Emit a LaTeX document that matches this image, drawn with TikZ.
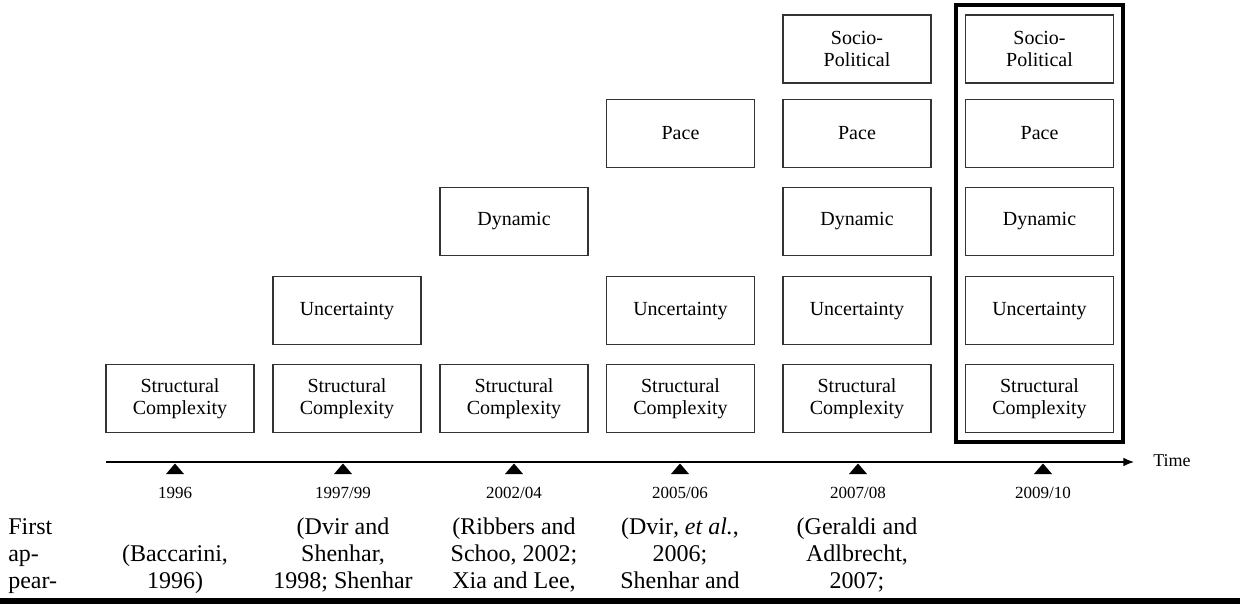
\documentclass[tikz,border=0pt]{standalone}
\usepackage{fontspec}
\setmainfont{Liberation Serif}
\usetikzlibrary{arrows.meta,fit}
\begin{document}
\begin{tikzpicture}[x=0.75pt,y=-0.75pt,
  dimbox/.style={draw=black!80, line width=0.9pt, minimum width=111pt, minimum height=51pt,
    inner sep=0pt, align=center, font=\fontsize{15}{16.5}\selectfont},
  yearlbl/.style={font=\fontsize{12.75}{14}\selectfont, inner sep=0pt},
  cite/.style={anchor=base, font=\fontsize{18}{20}\selectfont, inner sep=0pt},
  frame/.style={draw=black, line width=3pt, inner sep=6.75pt},
  axis/.style={line width=0.9pt, -{Latex[length=8pt,width=6.5pt]}},
  marker/.style={fill=black}]
\useasboundingbox (0,0) rectangle (1240,604);

% boxes
\foreach \c/\x in {1/180,2/347,3/514,4/680.5,5/857,6/1039.5}
  \node[dimbox] (sc\c) at (\x,398.5) {Structural\\Complexity};
\foreach \c/\x in {2/347,4/680.5,5/857,6/1039.5}
  \node[dimbox] (un\c) at (\x,310.8) {Uncertainty};
\foreach \c/\x in {3/514,5/857,6/1039.5}
  \node[dimbox] (dy\c) at (\x,221.5) {Dynamic};
\foreach \c/\x in {4/680.5,5/857,6/1039.5}
  \node[dimbox] (pa\c) at (\x,133.5) {Pace};
\foreach \c/\x in {5/857,6/1039.5}
  \node[dimbox] (sp\c) at (\x,49) {Socio-\\Political};

% highlight frame
\node[frame, fit=(sc6)(sp6)] (hl) {};

% time axis
\coordinate (axs) at (106,462);
\coordinate (axe) at (1134,462);
\draw[axis] (axs) -- (axe);
\node[yearlbl, font=\fontsize{13.5}{15}\selectfont] (time) at (1172,461) {Time};

% markers and years
\foreach \c/\x/\y in {1/175/1996,2/343/1997\slash 99,3/514/2002\slash 04,4/680/2005\slash 06,5/858/2007\slash 08,6/1043/2009\slash 10}{
  \fill[marker] (\x-9,474) -- (\x,463.5) -- (\x+9,474) -- cycle;
  \node[yearlbl] (yr\c) at (\x,493) {\y};
}

% citation row
\node[cite, anchor=base west] (fa) at (8,534) {First};
\node[cite, anchor=base west] (fb) at (8,561) {ap-};
\node[cite, anchor=base west] (fc) at (8,588) {pear-};

\node[cite] (c1b) at (175,561) {(Baccarini,};
\node[cite] (c1c) at (175,588) {1996)};

\node[cite] (c2a) at (343,534) {(Dvir and};
\node[cite] (c2b) at (343,561) {Shenhar,};
\node[cite] (c2c) at (343,588) {1998; Shenhar};

\node[cite] (c3a) at (514,534) {(Ribbers and};
\node[cite] (c3b) at (514,561) {Schoo, 2002;};
\node[cite] (c3c) at (514,588) {Xia and Lee,};

\node[cite] (c4a) at (680,534) {(Dvir\textit{, et al.},};
\node[cite] (c4b) at (680,561) {2006;};
\node[cite] (c4c) at (680,588) {Shenhar and};

\node[cite] (c5a) at (857,534) {(Geraldi and};
\node[cite] (c5b) at (857,561) {Adlbrecht,};
\node[cite] (c5c) at (857,588) {2007;};

% bottom rule
\fill[black] (0,597.5) rectangle (1240,604);
\end{tikzpicture}
\end{document}
